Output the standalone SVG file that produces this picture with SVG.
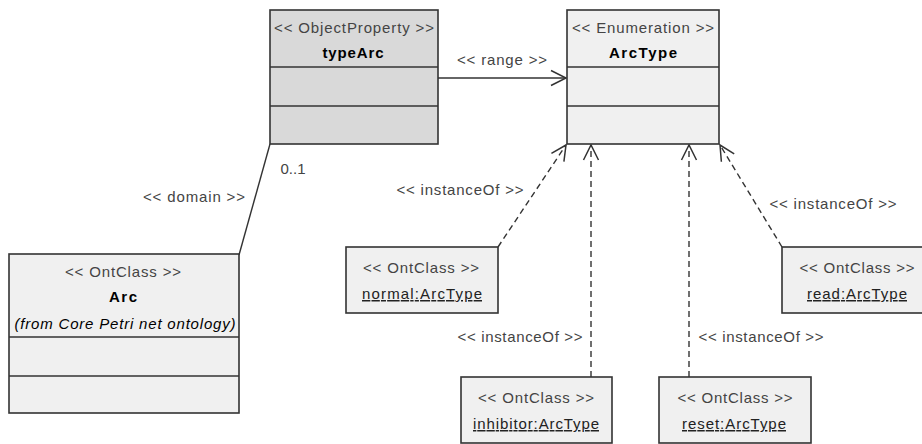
<svg xmlns="http://www.w3.org/2000/svg" width="922" height="444" viewBox="0 0 922 444">
<style>
.box{fill:#f0f0f0;stroke:#333;stroke-width:1.6}
.dark{fill:#d9d9d9}
.sep{stroke:#333;stroke-width:1.6}
text{font-family:"Liberation Sans",Arial,sans-serif;font-size:15px;text-anchor:middle}
.st{fill:#444}
.nm{fill:#000;font-weight:bold}
.it{fill:#000;font-style:italic}
.in{fill:#222;text-decoration:underline}
.lb{fill:#444}
.conn{fill:none;stroke:#333;stroke-width:1.4}
.dash{stroke-dasharray:6 4}
</style>
<defs>
<marker id="open" markerUnits="userSpaceOnUse" orient="auto" markerWidth="20" markerHeight="20" refX="0" refY="0" viewBox="-17 -10 20 20" overflow="visible">
<path d="M-15,-7.5 L0,0 L-15,7.5" fill="none" stroke="#333" stroke-width="1.5"/>
</marker>
</defs>
<g id="connectors">
<line class="conn" x1="239" y1="255" x2="270" y2="144"/>
<line class="conn" x1="438" y1="78" x2="566" y2="78" marker-end="url(#open)"/>
<line class="conn dash" x1="498" y1="247" x2="566" y2="145" marker-end="url(#open)"/>
<line class="conn dash" x1="591" y1="377" x2="591" y2="145" marker-end="url(#open)"/>
<line class="conn dash" x1="689" y1="377" x2="689" y2="145" marker-end="url(#open)"/>
<line class="conn dash" x1="782" y1="247" x2="720" y2="145" marker-end="url(#open)"/>
<text class="lb" x="502" y="65" textLength="90" lengthAdjust="spacing">&lt;&lt; range &gt;&gt;</text>
<text class="lb" x="194" y="202" textLength="102" lengthAdjust="spacing">&lt;&lt; domain &gt;&gt;</text>
<text class="lb" x="293" y="174" textLength="25" lengthAdjust="spacing">0..1</text>
<text class="lb" x="460" y="195" textLength="127" lengthAdjust="spacing">&lt;&lt; instanceOf &gt;&gt;</text>
<text class="lb" x="520" y="342" textLength="125" lengthAdjust="spacing">&lt;&lt; instanceOf &gt;&gt;</text>
<text class="lb" x="761" y="342" textLength="125" lengthAdjust="spacing">&lt;&lt; instanceOf &gt;&gt;</text>
<text class="lb" x="833" y="209" textLength="127" lengthAdjust="spacing">&lt;&lt; instanceOf &gt;&gt;</text>
</g>
<g id="typeArc">
<rect class="box dark" x="270" y="10" width="168" height="134"/>
<line class="sep" x1="270" y1="67" x2="438" y2="67"/>
<line class="sep" x1="270" y1="106" x2="438" y2="106"/>
<text class="st" x="354" y="33" textLength="160" lengthAdjust="spacing">&lt;&lt; ObjectProperty &gt;&gt;</text>
<text class="nm" x="353" y="58" textLength="61" lengthAdjust="spacing">typeArc</text>
</g>
<g id="ArcType">
<rect class="box" x="567" y="10" width="152" height="134"/>
<line class="sep" x1="567" y1="67" x2="719" y2="67"/>
<line class="sep" x1="567" y1="106" x2="719" y2="106"/>
<text class="st" x="643" y="33" textLength="142" lengthAdjust="spacing">&lt;&lt; Enumeration &gt;&gt;</text>
<text class="nm" x="643" y="58" textLength="68" lengthAdjust="spacing">ArcType</text>
</g>
<g id="Arc">
<rect class="box" x="9" y="254" width="230" height="159"/>
<line class="sep" x1="9" y1="337" x2="239" y2="337"/>
<line class="sep" x1="9" y1="376" x2="239" y2="376"/>
<text class="st" x="123" y="277" textLength="116" lengthAdjust="spacing">&lt;&lt; OntClass &gt;&gt;</text>
<text class="nm" x="123" y="302" textLength="28" lengthAdjust="spacing">Arc</text>
<text class="it" x="125" y="329" textLength="221" lengthAdjust="spacing">(from Core Petri net ontology)</text>
</g>
<g id="normal">
<rect class="box" x="346" y="247" width="152" height="66"/>
<text class="st" x="421" y="273" textLength="116" lengthAdjust="spacing">&lt;&lt; OntClass &gt;&gt;</text>
<text class="in" x="422" y="299" textLength="120" lengthAdjust="spacing">normal:ArcType</text>
</g>
<g id="read">
<rect class="box" x="782" y="247" width="152" height="66"/>
<text class="st" x="857" y="273" textLength="115" lengthAdjust="spacing">&lt;&lt; OntClass &gt;&gt;</text>
<text class="in" x="857" y="299" textLength="100" lengthAdjust="spacing">read:ArcType</text>
</g>
<g id="inhibitor">
<rect class="box" x="461" y="377" width="151" height="66"/>
<text class="st" x="536" y="403" textLength="116" lengthAdjust="spacing">&lt;&lt; OntClass &gt;&gt;</text>
<text class="in" x="536" y="429" textLength="126" lengthAdjust="spacing">inhibitor:ArcType</text>
</g>
<g id="reset">
<rect class="box" x="659" y="377" width="152" height="66"/>
<text class="st" x="735" y="403" textLength="115" lengthAdjust="spacing">&lt;&lt; OntClass &gt;&gt;</text>
<text class="in" x="734" y="429" textLength="104" lengthAdjust="spacing">reset:ArcType</text>
</g>
</svg>
